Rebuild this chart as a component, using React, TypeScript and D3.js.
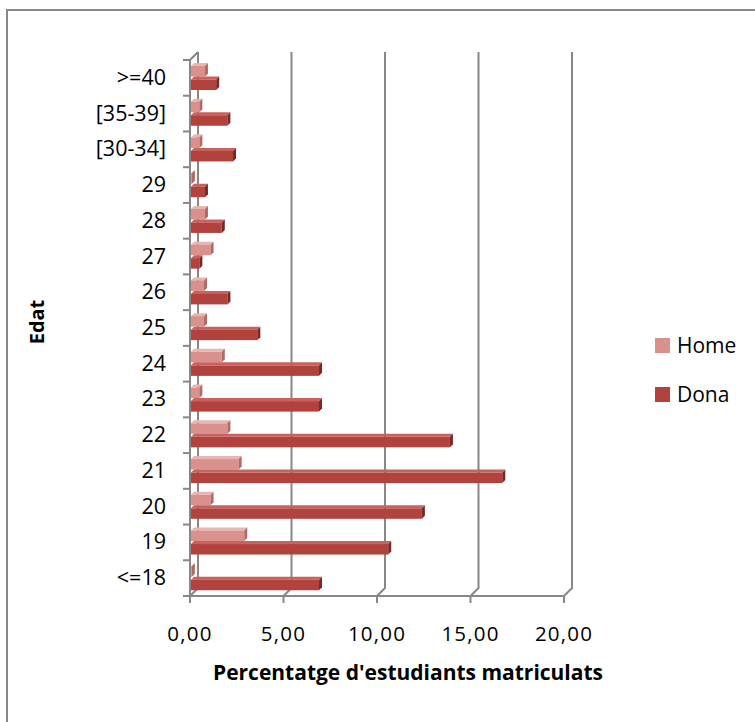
import { useEffect, useRef } from "react";
import * as d3 from "d3";

const W = 755;
const H = 722;
const CATEGORIES: string[] = ["<=18", "19", "20", "21", "22", "23", "24", "25", "26", "27", "28", "29", "[30-34]", "[35-39]", ">=40"];
const HOME: number[] = [0.1, 2.9, 1.1, 2.6, 2.0, 0.5, 1.7, 0.75, 0.75, 1.1, 0.8, 0.1, 0.5, 0.5, 0.8];
const DONA: number[] = [6.9, 10.6, 12.4, 16.7, 13.9, 6.9, 6.9, 3.6, 2.0, 0.5, 1.7, 0.8, 2.3, 2.0, 1.4];
const SERIES = ["Home", "Dona"];
const X_TICKS: number[] = [0, 5, 10, 15, 20];

const COLORS: Record<string, { front: string; top: string; end: string }> = {
  Home: { front: "#d9918e", top: "#e8b5b3", end: "#b46865" },
  Dona: { front: "#b2423e", top: "#c9625e", end: "#7a2825" },
};

const FONT = "'Open Sans', 'Liberation Sans', sans-serif";
const DEPTH = 8; // wall depth
const BD = 3; // bar depth

const App = () => {
  const svgRef = useRef<SVGSVGElement | null>(null);

  useEffect(() => {
    if (!svgRef.current) return;
    const svg = d3.select(svgRef.current);
    svg.selectAll("*").remove();

    const x = d3.scaleLinear().domain([0, 20]).range([190, 564]);
    const y = d3
      .scaleBand<string>()
      .domain([...CATEGORIES].reverse())
      .range([60, 596]);
    const sub = d3.scaleBand<string>().domain(SERIES).range([3, 30]);

    // chart border
    svg
      .append("path")
      .attr("d", `M7,${H + 2}V10H${W + 2}`)
      .attr("fill", "none")
      .attr("stroke", "#888")
      .attr("stroke-width", 2);

    const grid = svg.append("g").attr("stroke", "#878787").attr("stroke-width", 2).attr("fill", "none");
    const y0 = y.range()[0];
    const y1 = y.range()[1];

    // back wall gridlines + floor diagonals
    X_TICKS.forEach((t) => {
      grid
        .append("path")
        .attr("d", `M${x(t) + DEPTH},${y0 - DEPTH}V${y1 - DEPTH}L${x(t)},${y1}`);
      grid.append("line").attr("x1", x(t)).attr("x2", x(t)).attr("y1", y1).attr("y2", y1 + 7);
    });
    // floor front edge
    grid.append("line").attr("x1", x(0)).attr("x2", x(20)).attr("y1", y1).attr("y2", y1);
    // left wall front edge
    grid
      .append("path")
      .attr("d", `M${x(0) + DEPTH},${y0 - DEPTH}L${x(0)},${y0}V${y1}`);
    // category ticks
    const bounds = d3.range(CATEGORIES.length + 1).map((i) => y0 + i * y.step());
    bounds.forEach((b) => {
      grid.append("line").attr("x1", x(0) - 7).attr("x2", x(0)).attr("y1", b).attr("y2", b);
    });

    // bars
    const bars = svg.append("g");
    CATEGORIES.forEach((cat, i) => {
      SERIES.forEach((s) => {
        const v = s === "Home" ? HOME[i] : DONA[i];
        const c = COLORS[s];
        const xa = x(0) + 1;
        const xb = x(v);
        const top = (y(cat) as number) + (sub(s) as number);
        const fy = top + BD;
        const fh = sub.bandwidth() - BD;
        bars
          .append("path")
          .attr("d", `M${xa},${fy}L${xa + BD},${top}L${xb + BD},${top}L${xb},${fy}Z`)
          .attr("fill", c.top);
        bars
          .append("rect")
          .attr("x", xa)
          .attr("y", fy)
          .attr("width", Math.max(0, xb - xa))
          .attr("height", fh)
          .attr("fill", c.front);
        bars
          .append("path")
          .attr("d", `M${xb},${fy}L${xb + BD},${top}L${xb + BD},${top + fh}L${xb},${fy + fh}Z`)
          .attr("fill", c.end);
      });
    });

    // category labels
    svg
      .append("g")
      .selectAll("text")
      .data(CATEGORIES)
      .join("text")
      .attr("x", 166)
      .attr("y", (d) => (y(d) as number) + y.bandwidth() / 2 + 7)
      .attr("text-anchor", "end")
      .attr("font-family", FONT)
      .attr("font-size", 21.5)
      .attr("fill", "#000")
      .text((d) => d);

    // x tick labels
    svg
      .append("g")
      .selectAll("text")
      .data(X_TICKS)
      .join("text")
      .attr("x", (d) => x(d))
      .attr("y", 641)
      .attr("text-anchor", "middle")
      .attr("font-family", FONT)
      .attr("font-size", 20.5)
      .attr("letter-spacing", 1.2)
      .attr("fill", "#000")
      .text((d) => d3.format(".2f")(d).replace(".", ","));

    // axis titles
    svg
      .append("text")
      .attr("x", 408)
      .attr("y", 680)
      .attr("text-anchor", "middle")
      .attr("font-family", FONT)
      .attr("font-weight", "bold")
      .attr("font-size", 20.5)
      .attr("textLength", 390)
      .attr("lengthAdjust", "spacingAndGlyphs")
      .attr("fill", "#000")
      .text("Percentatge d'estudiants matriculats");

    svg
      .append("text")
      .attr("transform", "translate(44,322) rotate(-90)")
      .attr("text-anchor", "middle")
      .attr("font-family", FONT)
      .attr("font-weight", "bold")
      .attr("font-size", 20)
      .attr("fill", "#000")
      .text("Edat");

    // legend
    const legend = svg.append("g");
    SERIES.forEach((s, i) => {
      const ly = 338 + i * 49;
      legend.append("rect").attr("x", 655).attr("y", ly).attr("width", 15).attr("height", 15).attr("fill", COLORS[s].front);
      legend
        .append("text")
        .attr("x", 677)
        .attr("y", ly + 15)
        .attr("font-family", FONT)
        .attr("font-size", 21)
        .attr("fill", "#000")
        .text(s);
    });
  }, []);

  return (
    <div className="app">
      <svg ref={svgRef} width={W} height={H} style={{ position: "absolute", left: 0, top: 0, background: "#fff" }} />
    </div>
  );
};

export default App;
